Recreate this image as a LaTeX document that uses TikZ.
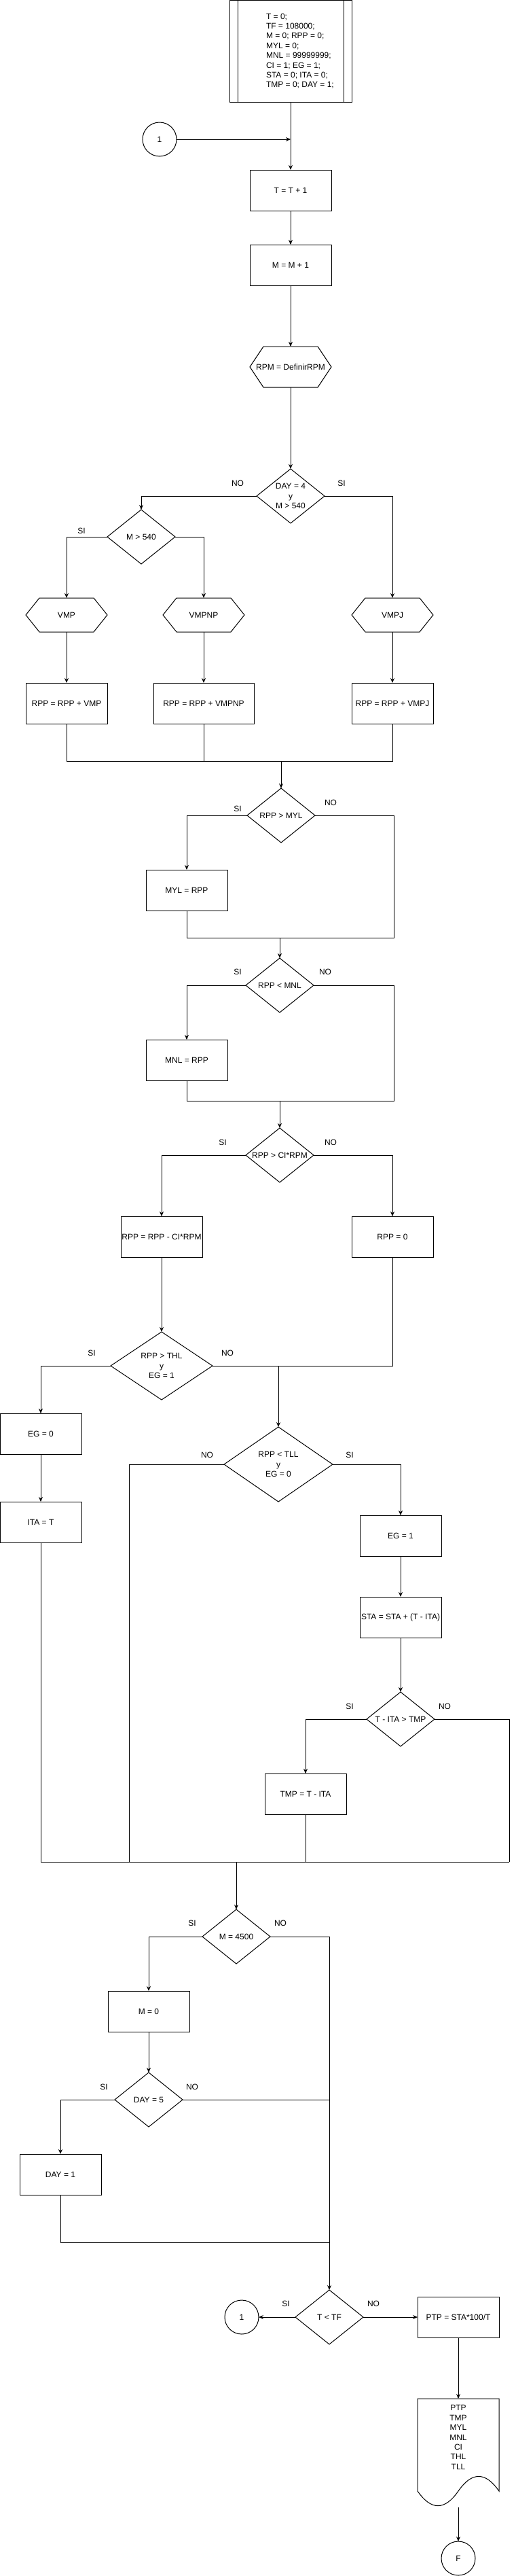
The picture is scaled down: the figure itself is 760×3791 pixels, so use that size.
\documentclass[tikz,border=0pt]{standalone}
\usepackage{fontspec}
\setmainfont{Liberation Sans}
\usetikzlibrary{shapes.geometric,arrows.meta}

\tikzset{
    base/.style={font=\fontsize{12}{14.4}\selectfont, inner sep=0pt, outer sep=0pt},
    ln/.style={line width=1pt},
    arr/.style={line width=1pt, -{Stealth[length=7pt,width=6pt]}},
    proc/.style={base, draw, line width=1pt, minimum width=120pt, minimum height=60pt, align=center},
    dec/.style={base, draw, line width=1pt, diamond, aspect=1.25, minimum width=100pt, minimum height=80pt, align=center},
    hexbox/.style={base, minimum width=120pt, minimum height=60pt},
    term/.style={base, draw, line width=1pt, circle, minimum size=50pt},
    lbl/.style={base}
}
\newcommand{\procbox}[3]{\node[proc] (#1) at (#2) {#3};}
\newcommand{\decision}[3]{\node[dec] (#1) at (#2) {#3};}
\newcommand{\hexshape}[4]{\node[hexbox, minimum height=#3] (#1) at (#2) {#4};
    \draw[ln] ([xshift=20pt]#1.north west) -- ([xshift=-20pt]#1.north east) -- (#1.east) -- ([xshift=-20pt]#1.south east) -- ([xshift=20pt]#1.south west) -- (#1.west) -- cycle;}
\newcommand{\branch}[3]{\node[lbl] (#1) at (#2) {#3};}

\begin{document}
\begin{tikzpicture}[x=1pt,y=-1pt]
    \useasboundingbox (0,0) rectangle (760,3791);

    \node[base, draw, line width=1pt, minimum width=180pt, minimum height=150pt] (init) at (428,75) {};
    \draw[ln] ([xshift=12pt]init.north west) -- ([xshift=12pt]init.south west);
    \draw[ln] ([xshift=-12pt]init.north east) -- ([xshift=-12pt]init.south east);
    \node[base, align=left, anchor=west] (initxt) at (392,75) {T = 0;\\TF = 108000;\\M = 0; RPP = 0;\\MYL = 0;\\MNL = 99999999;\\CI = 1; EG = 1;\\STA = 0; ITA = 0;\\TMP = 0; DAY = 1;};

    \node[term] (c1a) at (235,205) {1};
    \coordinate (j0) at (428,205);
    \procbox{tinc}{428,280}{T = T + 1}
    \procbox{minc}{428,390}{M = M + 1}
    \hexshape{rpm}{428,540}{60pt}{RPM = DefinirRPM}
    \decision{day4}{428,730}{DAY = 4\\y\\M > 540}
    \decision{m540}{208,790}{M > 540}
    \hexshape{vmp}{98,905}{50pt}{VMP}
    \hexshape{vmpnp}{300,905}{50pt}{VMPNP}
    \hexshape{vmpj}{578,905}{50pt}{VMPJ}
    \procbox{addvmp}{98,1035}{RPP = RPP + VMP}
    \node[proc, minimum width=148pt] (addvmpnp) at (300,1035) {RPP = RPP + VMPNP};
    \procbox{addvmpj}{578,1035}{RPP = RPP + VMPJ}

    \coordinate (m1) at (414,1120);
    \decision{myl}{414,1200}{RPP > MYL}
    \procbox{mylset}{275,1310}{MYL = RPP}
    \coordinate (m2) at (412,1380);
    \coordinate (m2r) at (580,1380);
    \decision{mnl}{412,1450}{RPP < MNL}
    \procbox{mnlset}{275,1560}{MNL = RPP}
    \coordinate (m3) at (412,1620);
    \coordinate (m3r) at (580,1620);
    \decision{cirpm}{412,1700}{RPP > CI*RPM}
    \procbox{subci}{238,1820}{RPP = RPP - CI*RPM}
    \procbox{zero}{578,1820}{RPP = 0}

    \node[dec, aspect=1.5, minimum width=150pt, minimum height=100pt] (thl) at (238,2010) {RPP > THL\\y\\EG = 1};
    \procbox{egoff}{60,2110}{EG = 0}
    \procbox{itaset}{60,2240}{ITA = T}
    \coordinate (j1) at (410,2010);
    \node[dec, aspect=1.45, minimum width=160pt, minimum height=110pt] (tll) at (410,2155) {RPP < TLL\\y\\EG = 0};
    \procbox{egon}{590,2260}{EG = 1}
    \procbox{staadd}{590,2380}{STA = STA + (T - ITA)}
    \decision{tmpchk}{590,2530}{T - ITA > TMP}
    \procbox{tmpset}{450,2640}{TMP = T - ITA}
    \coordinate (m4) at (348,2740);
    \coordinate (m4b) at (190,2740);
    \coordinate (m4r) at (750,2740);

    \decision{m4500}{348,2850}{M = 4500}
    \procbox{mzero}{219,2960}{M = 0}
    \decision{day5}{219,3090}{DAY = 5}
    \procbox{dayone}{89,3200}{DAY = 1}
    \coordinate (m5) at (485,3300);
    \decision{tend}{485,3410}{T < TF}
    \node[term] (c1b) at (356,3410) {1};
    \procbox{ptp}{675,3410}{PTP = STA*100/T}
    \node[base, minimum width=120pt, minimum height=160pt] (docu) at (675,3610) {};
    \begin{scope}[shift={(docu.north west)}]
        \draw[ln] (0,0) -- (120,0) -- (120,136) .. controls (100,107.2) and (80,107.2) .. (60,136) .. controls (40,164.8) and (20,164.8) .. (0,136) -- cycle;
    \end{scope}
    \node[base, align=center] (doctxt) at (675,3587) {PTP\\TMP\\MYL\\MNL\\CI\\THL\\TLL};
    \node[term] (fin) at (675,3765) {F};

    \draw[arr] (init) -- (tinc);
    \draw[arr] (c1a) -- (j0);
    \draw[arr] (tinc) -- (minc);
    \draw[arr] (minc) -- (rpm);
    \draw[arr] (rpm) -- (day4);
    \draw[arr] (day4.west) -| (m540.north);
    \draw[arr] (day4.east) -| (vmpj.north);
    \draw[arr] (m540.west) -| (vmp.north);
    \draw[arr] (m540.east) -| (vmpnp.north);
    \draw[arr] (vmp) -- (addvmp);
    \draw[arr] (vmpnp) -- (addvmpnp);
    \draw[arr] (vmpj) -- (addvmpj);
    \draw[ln] (addvmp.south) |- (addvmpj.south |- m1) -- (addvmpj.south);
    \draw[ln] (addvmpnp.south) -- (addvmpnp.south |- m1);
    \draw[arr] (m1) -- (myl.north);

    \draw[arr] (myl.west) -| (mylset.north);
    \draw[ln] (myl.east) -| (m2r) -- (mylset.south |- m2r) -- (mylset.south);
    \draw[arr] (m2) -- (mnl.north);
    \draw[arr] (mnl.west) -| (mnlset.north);
    \draw[ln] (mnl.east) -| (m3r) -- (mnlset.south |- m3r) -- (mnlset.south);
    \draw[arr] (m3) -- (cirpm.north);
    \draw[arr] (cirpm.west) -| (subci.north);
    \draw[arr] (cirpm.east) -| (zero.north);
    \draw[arr] (subci) -- (thl);

    \draw[arr] (thl.west) -| (egoff.north);
    \draw[arr] (egoff) -- (itaset);
    \draw[ln] (thl.east) -| (zero.south);
    \draw[arr] (j1) -- (tll.north);
    \draw[ln] (tll.west) -| (m4b);
    \draw[arr] (tll.east) -| (egon.north);
    \draw[arr] (egon) -- (staadd);
    \draw[arr] (staadd) -- (tmpchk);
    \draw[arr] (tmpchk.west) -| (tmpset.north);
    \draw[ln] (tmpchk.east) -| (m4r);
    \draw[ln] (tmpset.south) -- (tmpset.south |- m4);
    \draw[ln] (itaset.south) |- (m4r);
    \draw[arr] (m4) -- (m4500.north);

    \draw[arr] (m4500.west) -| (mzero.north);
    \draw[ln] (m4500.east) -| (m5);
    \draw[arr] (mzero) -- (day5);
    \draw[arr] (day5.west) -| (dayone.north);
    \draw[ln] (day5.east) -- (day5.east -| m5);
    \draw[ln] (dayone.south) |- (m5);
    \draw[arr] (m5) -- (tend.north);
    \draw[arr] (tend) -- (c1b);
    \draw[arr] (tend) -- (ptp);
    \draw[arr] (ptp) -- (docu);
    \draw[arr] (docu) -- (fin);

    \branch{no1}{350,711}{NO}
    \branch{si1}{503,711}{SI}
    \branch{si2}{120,781}{SI}
    \branch{si3}{350,1190}{SI}
    \branch{no3}{487,1181}{NO}
    \branch{si4}{350,1430}{SI}
    \branch{no4}{479,1430}{NO}
    \branch{si5}{328,1681}{SI}
    \branch{no5}{487,1681}{NO}
    \branch{si6}{135,1991}{SI}
    \branch{no6}{335,1991}{NO}
    \branch{no7}{305,2141}{NO}
    \branch{si7}{515,2141}{SI}
    \branch{si8}{515,2511}{SI}
    \branch{no8}{655,2511}{NO}
    \branch{si9}{283,2830}{SI}
    \branch{no9}{413,2830}{NO}
    \branch{si10}{153,3071}{SI}
    \branch{no10}{283,3071}{NO}
    \branch{si11}{421,3390}{SI}
    \branch{no11}{550,3390}{NO}
\end{tikzpicture}
\end{document}
